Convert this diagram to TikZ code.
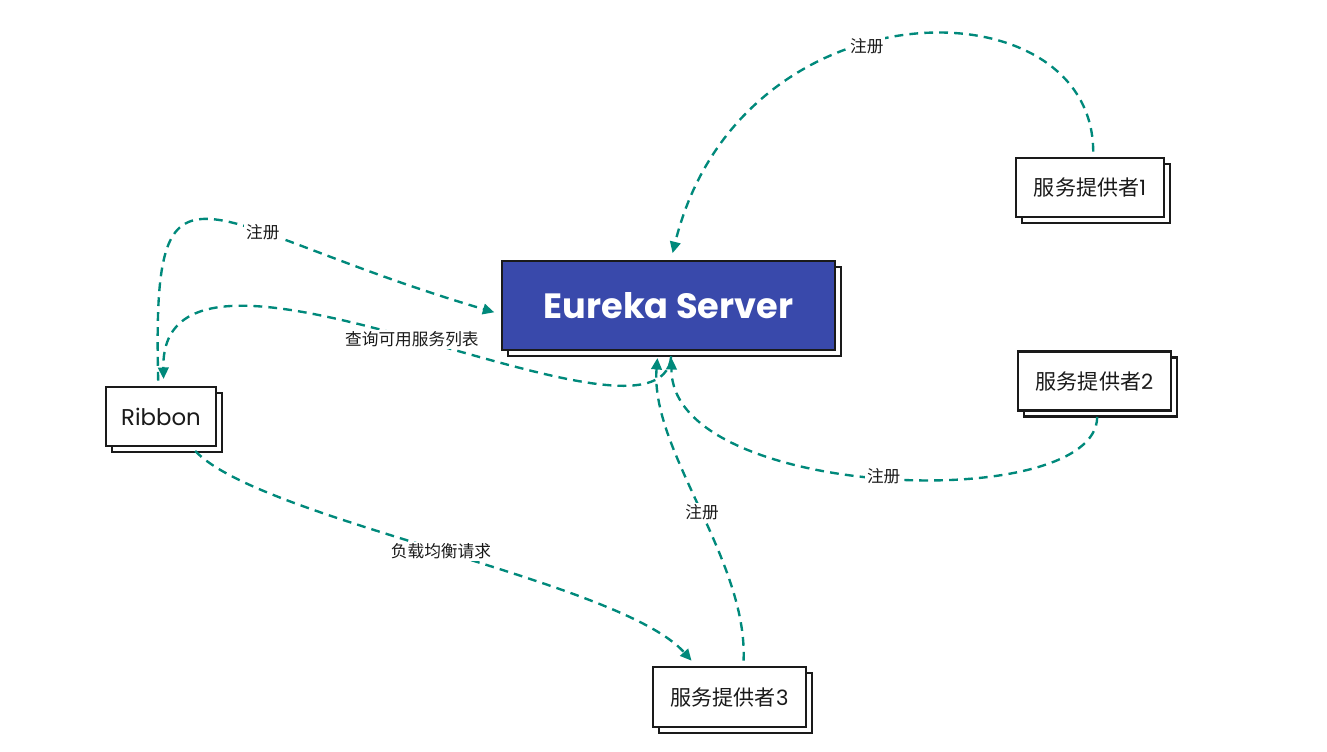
\documentclass[tikz,border=0pt]{standalone}
\usepackage{fontspec}
\setmainfont{Poppins}
\newfontfamily\cjk{Noto Sans CJK SC}
\usetikzlibrary{arrows.meta,shadows}
\definecolor{eurekablue}{RGB}{57,73,171}
\definecolor{linkgreen}{RGB}{0,137,123}
\definecolor{inkgray}{RGB}{26,26,26}
\tikzset{
	box/.style={rectangle,draw=inkgray,line width=1.2pt,fill=white,text=inkgray,
		minimum height=1.18cm,inner sep=0pt,font=\fontsize{12}{14}\selectfont,
		copy shadow={shadow xshift=3.4pt,shadow yshift=-3.4pt,fill=white,draw=inkgray,line width=1.2pt}},
	link/.style={draw=linkgreen,line width=1.35pt,dash pattern=on 5pt off 3.5pt,
		-{Triangle[length=6.5pt,width=6pt]},shorten <=3pt,shorten >=4pt},
	tag/.style={fill=white,inner sep=1pt,text=inkgray,font=\cjk\fontsize{9.5}{11}\selectfont}
}
\begin{document}
\begin{tikzpicture}[x=0.02cm,y=-0.02cm]
	\useasboundingbox (0,0) rectangle (1327,751);
	% boxes
	\node[box,fill=eurekablue,text=white,minimum width=6.66cm,minimum height=1.78cm,
		font=\bfseries\fontsize{20}{24}\selectfont] (eureka) at (668.5,305.5) {Eureka Server};
	\node[box,minimum width=2.2cm,font=\fontsize{13}{15}\selectfont] (ribbon) at (161,416.5) {Ribbon};
	\node[box,minimum width=2.96cm] (prov1) at (1090,187.5) {{\cjk 服务提供者}1};
	\node[box,minimum width=3.06cm] (prov2) at (1094.5,381) {{\cjk 服务提供者}2};
	\node[box,minimum width=3.06cm,minimum height=1.2cm] (prov3) at (729.5,697) {{\cjk 服务提供者}3};
	% links
	\draw[link] (prov1.84) .. controls (1093,-20) and (740,-20) .. node[tag,pos=0.57] {注册} (eureka.87);
	\draw[link] (ribbon.95) .. controls (152,130) and (195,224) .. node[tag,pos=0.64] {注册} (eureka.183);
	\draw[link] (eureka.274) .. controls (660,475) and (160,185) .. node[tag,pos=0.5] {查询可用服务列表} (ribbon.85);
	\draw[link] (prov2.275) .. controls (1097,515) and (670,500) .. node[tag,pos=0.5] {注册} (eureka.274);
	\draw[link] (prov3.66) .. controls (748,560) and (650,450) .. node[tag,pos=0.48] {注册} (eureka.257);
	\draw[link] (ribbon.315) .. controls (260,520) and (620,580) .. node[tag,pos=0.5] {负载均衡请求} (prov3.137);
\end{tikzpicture}
\end{document}
